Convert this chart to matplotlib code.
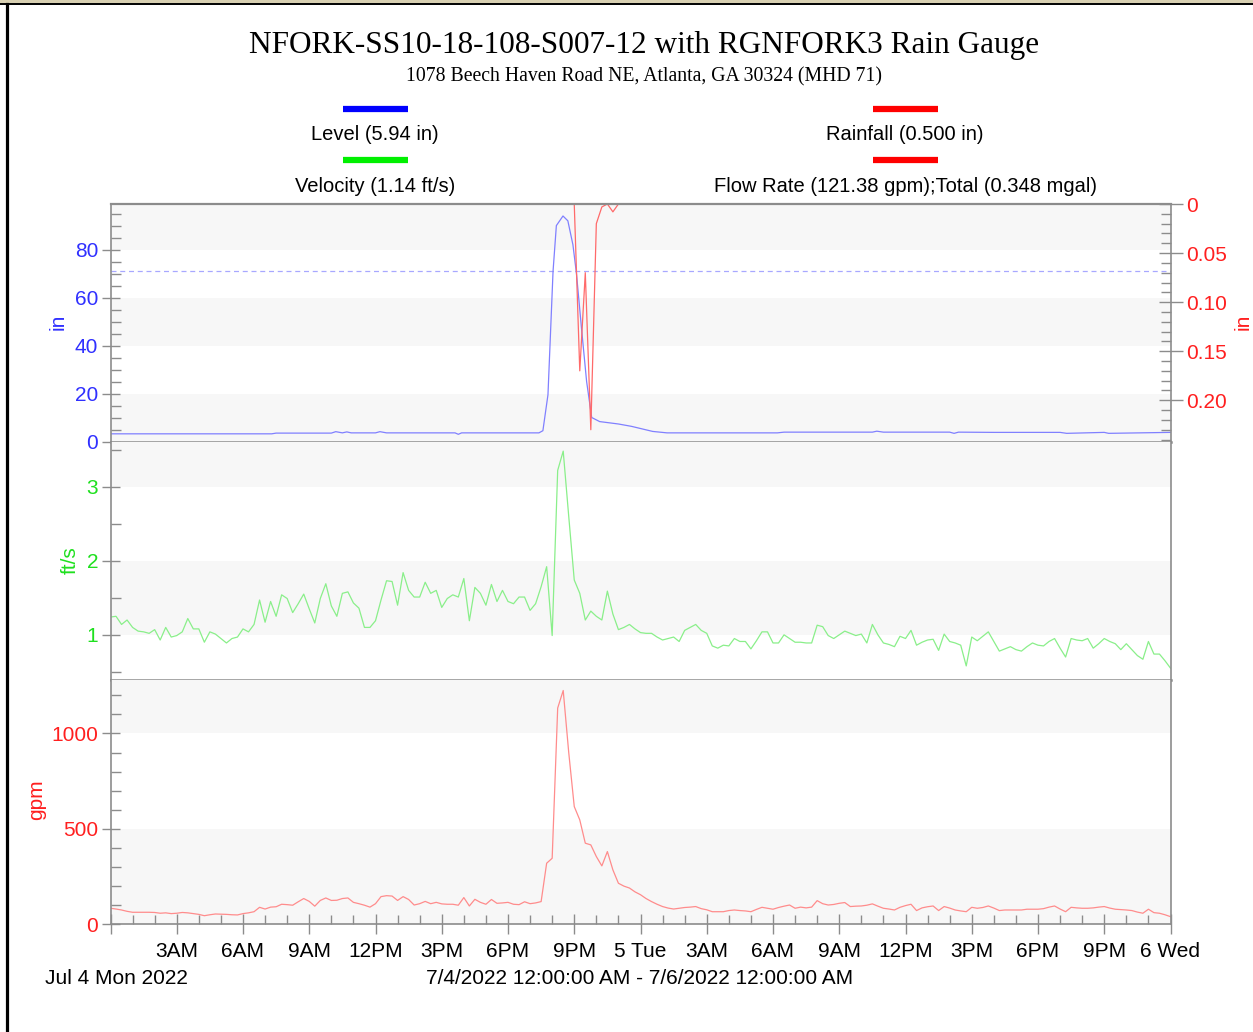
"""Level / velocity / flow chart for NFORK-SS10-18-108-S007-12 with rain gauge."""

import matplotlib
matplotlib.use('Agg')
import matplotlib.pyplot as plt
import numpy as np
from matplotlib.lines import Line2D
from matplotlib.patches import Rectangle
from matplotlib.ticker import MultipleLocator


W, H = 1253, 1032

# 15-minute samples from 7/4/2022 00:00 to 7/6/2022 00:00
STEP_H = 0.25

velocity_fts = [
    1.24, 1.25, 1.14, 1.20, 1.10, 1.05, 1.04, 1.02, 1.07, 0.93, 1.10, 0.97,
    0.99, 1.04, 1.22, 1.08, 1.08, 0.90, 1.04, 1.01, 0.95, 0.89, 0.95, 0.97,
    1.08, 1.04, 1.14, 1.47, 1.17, 1.45, 1.25, 1.54, 1.49, 1.30, 1.42, 1.55,
    1.35, 1.16, 1.49, 1.69, 1.39, 1.25, 1.56, 1.58, 1.43, 1.36, 1.10, 1.10,
    1.19, 1.47, 1.73, 1.72, 1.40, 1.84, 1.60, 1.51, 1.51, 1.71, 1.56, 1.60,
    1.37, 1.49, 1.54, 1.51, 1.76, 1.19, 1.64, 1.56, 1.40, 1.68, 1.45, 1.60,
    1.45, 1.42, 1.51, 1.51, 1.33, 1.42, 1.65, 1.92, 0.99, 3.22, 3.48, 2.60,
    1.74, 1.56, 1.20, 1.32, 1.25, 1.20, 1.59, 1.28, 1.07, 1.10, 1.14, 1.08,
    1.03, 1.02, 1.02, 0.97, 0.93, 0.95, 0.97, 0.91, 1.06, 1.10, 1.14, 1.06,
    1.02, 0.85, 0.82, 0.86, 0.85, 0.95, 0.91, 0.91, 0.81, 0.92, 1.04, 1.04,
    0.89, 0.89, 1.00, 0.95, 0.90, 0.90, 0.89, 0.89, 1.13, 1.11, 0.99, 0.95,
    1.00, 1.05, 1.02, 0.99, 1.01, 0.89, 1.14, 1.00, 0.89, 0.87, 0.84, 0.98,
    0.95, 1.06, 0.86, 0.90, 0.93, 0.94, 0.79, 1.01, 0.91, 0.89, 0.86, 0.58,
    0.97, 0.92, 0.98, 1.04, 0.91, 0.78, 0.81, 0.84, 0.80, 0.78, 0.84, 0.89,
    0.86, 0.85, 0.91, 0.95, 0.82, 0.70, 0.95, 0.93, 0.92, 0.95, 0.82, 0.88,
    0.95, 0.91, 0.88, 0.80, 0.88, 0.80, 0.72, 0.67, 0.91, 0.74, 0.74, 0.65,
    0.55,
]

flow_gpm = [
    84, 80, 75, 68, 63, 63, 63, 63, 62, 58, 60, 56,
    58, 62, 60, 56, 52, 45, 50, 54, 53, 52, 50, 49,
    56, 60, 66, 89, 80, 90, 92, 105, 103, 100, 118, 135,
    120, 95, 125, 138, 125, 126, 135, 138, 115, 108, 100, 90,
    108, 145, 150, 148, 125, 145, 130, 101, 108, 120, 108, 115,
    107, 105, 105, 100, 140, 96, 131, 115, 105, 130, 110, 112,
    115, 105, 103, 118, 108, 112, 119, 320, 346, 1133, 1225, 900,
    617, 547, 425, 416, 355, 306, 381, 285, 215, 200, 190, 170,
    155, 135, 119, 105, 93, 85, 80, 84, 88, 90, 93, 82,
    76, 66, 66, 66, 72, 75, 72, 70, 66, 78, 89, 84,
    79, 88, 95, 101, 84, 90, 86, 90, 124, 108, 101, 104,
    110, 114, 93, 95, 96, 100, 107, 95, 84, 80, 75, 89,
    98, 105, 72, 86, 92, 96, 72, 93, 85, 75, 70, 66,
    89, 84, 88, 96, 85, 72, 75, 75, 75, 75, 79, 79,
    79, 82, 90, 96, 80, 66, 89, 86, 84, 84, 86, 90,
    93, 85, 79, 77, 75, 72, 64, 58, 79, 61, 58, 50,
    40,
]

level_hours = [0, 7.3, 7.5, 10.0, 10.2, 10.5, 10.7, 10.9, 12.0, 12.2, 12.5,
               15.6, 15.75, 15.9, 19.4, 19.58, 19.81, 20.04, 20.19, 20.49,
               20.71, 20.94, 21.1, 21.33, 21.56, 21.79, 22.15, 23.0, 23.6,
               24.55, 25.2, 30.2, 30.5, 34.5, 34.7, 35.0, 38.0, 38.2, 38.4,
               40.0, 43.0, 43.3, 45.0, 45.2, 48.0]
level_in = [3.2, 3.2, 3.5, 3.5, 4.1, 3.6, 4.0, 3.6, 3.6, 4.1, 3.6,
            3.6, 3.0, 3.6, 3.6, 4.5, 19.5, 71, 90, 94,
            92, 82, 70, 47, 25, 10, 8.3, 7.3, 6.3,
            4.2, 3.6, 3.6, 3.9, 3.9, 4.3, 3.9, 3.9, 3.4, 3.9,
            3.8, 3.8, 3.4, 3.8, 3.4, 3.8]

rain_hours = [0, 20.75, 21.0, 21.25, 21.5, 21.75, 22.0, 22.25, 22.5, 22.75,
              23.0, 48]
rain_in = [0, 0, 0, 0.17, 0.07, 0.23, 0.02, 0.003, 0.0, 0.008, 0, 0]

pipe_level_in = 71

hour_ticks = list(range(0, 49, 3))
hour_labels = ['', '3AM', '6AM', '9AM', '12PM', '3PM', '6PM', '9PM', '5 Tue',
               '3AM', '6AM', '9AM', '12PM', '3PM', '6PM', '9PM', '6 Wed']

BLUE = '#3030ff'
GREEN = '#1fe01f'
RED = '#ff1f1f'
BAND = '#f7f7f7'
AXIS = '#8c8c8c'
SANS = 'Liberation Sans'
SERIF = 'Liberation Serif'
TICK_FS = 15


def fx(x):
    return x / W


def fy(y):
    return 1 - y / H


def panel(fig, top, bottom):
    ax = fig.add_axes([fx(110.5), fy(bottom), fx(1170.5) - fx(110.5),
                       fy(top) - fy(bottom)])
    ax.set_xlim(0, 48)
    for s in ax.spines.values():
        s.set_color(AXIS)
        s.set_linewidth(1.2)
    ax.spines['bottom'].set_linewidth(1.8)
    ax.set_xticks([])
    return ax


def bands(ax, spans):
    for lo, hi in spans:
        ax.axhspan(lo, hi, color=BAND, lw=0, zorder=0)


def yticks(ax, major, minor, color):
    ax.set_yticks(major)
    ax.yaxis.set_minor_locator(MultipleLocator(minor))
    ax.tick_params(axis='y', which='major', direction='inout', length=13.5,
                   width=1, color=AXIS, labelcolor=color, labelsize=TICK_FS,
                   pad=2)
    ax.tick_params(axis='y', which='minor', direction='in', length=7.5,
                   width=1, color=AXIS)
    for lab in ax.get_yticklabels():
        lab.set_fontfamily(SANS)


fig = plt.figure(figsize=(W / 100, H / 100), dpi=100)

# marco de la captura
fig.add_artist(Rectangle((0, fy(3.3)), 1, 1 - fy(3.3), color='#d8d0b2',
                         lw=0, transform=fig.transFigure))
fig.add_artist(Line2D([0, 1], [fy(4.2), fy(4.2)], color='black', lw=1.4))
fig.add_artist(Line2D([fx(6.6), fx(6.6)], [0, fy(4)], color='black', lw=2.3))

fig.text(fx(644), fy(45), 'NFORK-SS10-18-108-S007-12 with RGNFORK3 Rain Gauge',
         ha='center', va='center', fontsize=22.5, family=SERIF)
fig.text(fx(644), fy(77), '1078 Beech Haven Road NE, Atlanta, GA 30324 (MHD 71)',
         ha='center', va='center', fontsize=14.2, family=SERIF)

legend = [
    (375, 109, '#0000ff', 'Level (5.94 in)'),
    (375, 160, '#00f000', 'Velocity (1.14 ft/s)'),
    (905, 109, '#ff0000', 'Rainfall (0.500 in)'),
    (905, 160, '#ff0000', 'Flow Rate (121.38 gpm);Total (0.348 mgal)'),
]
for cx, cy, col, txt in legend:
    fig.add_artist(Line2D([fx(cx - 32.5), fx(cx + 32.5)], [fy(cy), fy(cy)],
                          color=col, lw=4.5, solid_capstyle='butt'))
    fig.text(fx(cx), fy(cy + 26), txt, ha='center', va='center',
             fontsize=14.5, family=SANS)

# nivel + lluvia
ax_lvl = panel(fig, 204, 441.5)
ax_lvl.spines['top'].set_visible(False)
ax_lvl.set_ylim(0, 99)
bands(ax_lvl, [(0, 20), (40, 60), (80, 99)])
yticks(ax_lvl, [0, 20, 40, 60, 80], 5, BLUE)
ax_lvl.axhline(pipe_level_in, color='#a8a8ff', lw=0.9, ls=(0, (4, 3)))
ax_lvl.plot(level_hours, level_in, color='#8080ff', lw=0.9)

ax_rain = ax_lvl.twinx()
ax_rain.set_ylim(0.242, 0)
ax_rain.set_xlim(0, 48)
for name, s in ax_rain.spines.items():
    s.set_visible(name == 'top')
ax_rain.spines['top'].set_color(AXIS)
ax_rain.spines['top'].set_linewidth(1.6)
ax_rain.spines['top'].set_zorder(5)
ax_rain.set_yticks([0, 0.05, 0.10, 0.15, 0.20])
ax_rain.set_yticklabels(['0', '0.05', '0.10', '0.15', '0.20'], family=SANS)
ax_rain.yaxis.set_minor_locator(MultipleLocator(0.01))
ax_rain.tick_params(axis='y', which='major', direction='inout', length=17,
                    width=1, color=AXIS, labelcolor=RED, labelsize=TICK_FS,
                    pad=3)
ax_rain.tick_params(axis='y', which='minor', direction='in', length=7.5,
                    width=1, color=AXIS)
ax_rain.plot(rain_hours, rain_in, color='#ff6a6a', lw=0.9, zorder=1)

# velocidad
hours = np.arange(len(velocity_fts)) * STEP_H
ax_vel = panel(fig, 441.5, 680)
ax_vel.spines['top'].set_visible(False)
ax_vel.set_ylim(0.39, 3.61)
bands(ax_vel, [(1, 2), (3, 3.61)])
yticks(ax_vel, [1, 2, 3], 0.5, GREEN)
ax_vel.plot(hours, velocity_fts, color='#8aef8a', lw=0.9)

# caudal
hours_q = np.arange(len(flow_gpm)) * STEP_H
ax_q = panel(fig, 680, 924.3)
ax_q.spines['top'].set_visible(False)
ax_q.spines['bottom'].set_linewidth(1.2)
ax_q.set_ylim(0, 1280)
bands(ax_q, [(0, 500), (1000, 1280)])
yticks(ax_q, [0, 500, 1000], 100, RED)
ax_q.plot(hours_q, flow_gpm, color='#ff8c8c', lw=0.9)

ax_q.set_xticks(hour_ticks)
ax_q.set_xticklabels(hour_labels, family=SANS)
ax_q.xaxis.set_minor_locator(MultipleLocator(1))
ax_q.tick_params(axis='x', which='major', direction='inout', length=15,
                 width=1, color=AXIS, labelsize=TICK_FS, pad=5)
ax_q.tick_params(axis='x', which='minor', direction='in', length=6.5,
                 width=1, color=AXIS)

# etiquetas de eje
fig.text(fx(58), fy(322), 'in', rotation=90, ha='center', va='center',
         color=BLUE, fontsize=TICK_FS, family=SANS)
fig.text(fx(1243), fy(322), 'in', rotation=90, ha='center', va='center',
         color=RED, fontsize=TICK_FS, family=SANS)
fig.text(fx(70), fy(560), 'ft/s', rotation=90, ha='center', va='center',
         color=GREEN, fontsize=TICK_FS, family=SANS)
fig.text(fx(37), fy(800), 'gpm', rotation=90, ha='center', va='center',
         color=RED, fontsize=TICK_FS, family=SANS)

fig.text(fx(45), fy(978), 'Jul 4 Mon 2022', ha='left', va='center',
         fontsize=TICK_FS, family=SANS)
fig.text(fx(640), fy(978), '7/4/2022 12:00:00 AM - 7/6/2022 12:00:00 AM',
         ha='center', va='center', fontsize=TICK_FS, family=SANS)

fig.savefig('out.png', dpi=100)
